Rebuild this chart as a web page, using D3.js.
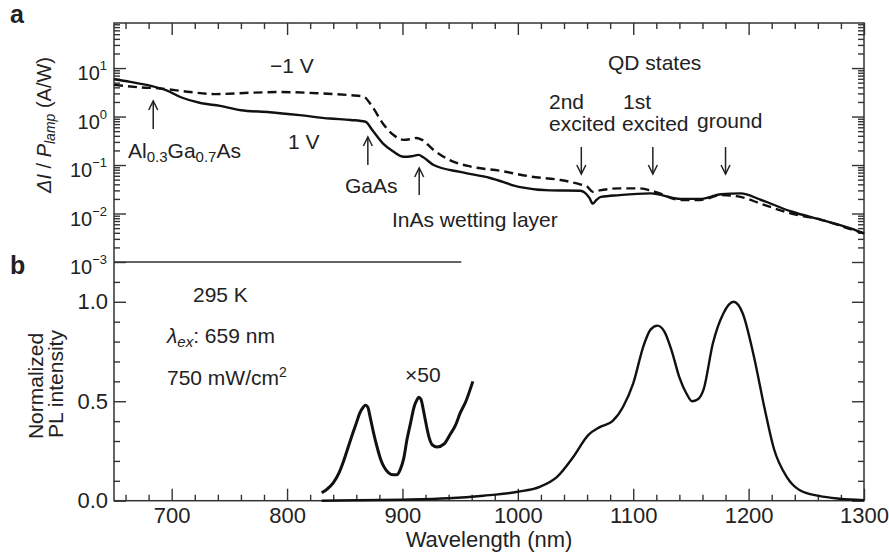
<!DOCTYPE html>
<html>
<head>
<meta charset="utf-8">
<script src="https://cdn.jsdelivr.net/npm/d3@7"></script>
<style>
  body { margin: 0; background: #fff; }
  svg text { font-family: "Liberation Sans", Arial, Helvetica, sans-serif; fill: #222; }
</style>
</head>
<body>
<div id="chart"></div>
<script>
// panel a: photocurrent response (A/W)
var respWl = [650, 664, 682, 695, 708, 725, 742, 760, 785, 811, 837, 855, 868, 874, 883, 892, 901, 908, 914, 918, 927, 950, 976, 1002, 1028, 1054, 1058, 1062, 1065, 1068, 1072, 1088, 1115, 1141, 1158, 1176, 1193, 1211, 1237, 1263, 1289, 1300];
var resp1V = [5.9, 5.2, 4.3, 3.5, 2.5, 1.9, 1.66, 1.35, 1.23, 1.07, 0.91, 0.85, 0.78, 0.52, 0.28, 0.19, 0.148, 0.152, 0.162, 0.145, 0.100, 0.072, 0.054, 0.035, 0.030, 0.0295, 0.027, 0.021, 0.016, 0.019, 0.022, 0.024, 0.026, 0.020, 0.020, 0.025, 0.026, 0.019, 0.011, 0.0074, 0.0049, 0.0039];
var respWlNeg = [650, 673, 690, 716, 738, 768, 794, 829, 855, 866, 874, 883, 892, 901, 906, 912, 917, 927, 941, 959, 985, 1011, 1037, 1054, 1060, 1065, 1071, 1088, 1106, 1119, 1141, 1158, 1176, 1193, 1211, 1237, 1263, 1289, 1300];
var respNeg1V = [4.5, 4.0, 3.8, 3.2, 2.9, 3.1, 3.2, 3.0, 2.75, 2.6, 1.58, 0.72, 0.42, 0.33, 0.34, 0.36, 0.33, 0.204, 0.126, 0.093, 0.076, 0.058, 0.049, 0.040, 0.036, 0.028, 0.030, 0.033, 0.033, 0.028, 0.019, 0.019, 0.024, 0.022, 0.0158, 0.010, 0.0074, 0.0047, 0.0039];

// panel b: normalized PL
var plWl = [830, 860, 900, 940, 970, 1000, 1019, 1034, 1048, 1061, 1071, 1082, 1091, 1100, 1109, 1115, 1121, 1127, 1133, 1140, 1146, 1151, 1156, 1161, 1169, 1178, 1187, 1195, 1204, 1214, 1222, 1233, 1244, 1261, 1279, 1300];
var plValue = [0, 0.002, 0.005, 0.012, 0.025, 0.045, 0.07, 0.12, 0.22, 0.33, 0.37, 0.40, 0.47, 0.59, 0.78, 0.86, 0.88, 0.85, 0.76, 0.62, 0.54, 0.50, 0.51, 0.56, 0.79, 0.94, 1.0, 0.94, 0.74, 0.46, 0.26, 0.12, 0.054, 0.024, 0.01, 0.003];
var pl50Wl = [830, 835, 840, 845, 849, 853, 857, 860, 863, 866, 868, 870, 872, 875, 878, 881, 884, 888, 892, 895, 898, 901, 904, 907, 910, 912, 914, 916, 918, 920, 923, 926, 930, 936, 941, 946, 950, 955, 961];
var pl50Value = [0.04, 0.06, 0.09, 0.14, 0.2, 0.27, 0.34, 0.39, 0.44, 0.47, 0.48, 0.47, 0.42, 0.34, 0.27, 0.21, 0.17, 0.14, 0.13, 0.13, 0.155, 0.21, 0.31, 0.39, 0.47, 0.5, 0.52, 0.51, 0.46, 0.40, 0.32, 0.28, 0.27, 0.285, 0.33, 0.38, 0.44, 0.50, 0.60];

var xMajor = [700, 800, 900, 1000, 1100, 1200, 1300];
var logMajor = [1e-3, 1e-2, 1e-1, 1, 10];
var logLabels = ["\u22123", "\u22122", "\u22121", "0", "1"];
var plMajor = [0, 0.5, 1.0];

// arrows (wavelength of arrow)
var upArrows = [684, 870, 914.5];
var downArrows = [1055, 1117, 1180];

var width = 889, height = 559;
var pLeft = 114, pRight = 864, pTop = 23, pMid = 262, pBottom = 500.7;

var svg = d3.select("#chart").append("svg")
    .attr("width", width)
    .attr("height", height);

var x = d3.scaleLinear().domain([650, 1300]).range([pLeft, pRight]);
var yTop = d3.scaleLog().domain([1e-3, 85]).range([pMid, pTop]);
var yBot = d3.scaleLinear().domain([0, 1.2]).range([pBottom, pMid]);

var xMinor = d3.range(660, 1300, 20).filter(function(d) { return d % 100 != 0; });
var logMinor = yTop.ticks().filter(function(d) { return logMajor.indexOf(d) < 0; });
var plMinor = d3.range(0, 12).map(function(d) { return d / 10; }).filter(function(d) { return plMajor.indexOf(d) < 0; });

function tidy(g) {
    g.select(".domain").remove();
    g.selectAll(".tick line").attr("stroke", "#333").attr("stroke-width", 1.4);
    g.selectAll("text").attr("font-size", 22).attr("fill", "#222");
}

// bottom x axis
svg.append("g").attr("transform", "translate(0," + pBottom + ")")
    .call(d3.axisBottom(x).tickValues(xMinor).tickSize(-6).tickFormat("")).call(tidy);
svg.append("g").attr("transform", "translate(0," + pBottom + ")")
    .call(d3.axisBottom(x).tickValues(xMajor).tickSize(-12).tickPadding(7).tickFormat(d3.format("d"))).call(tidy);
// top x axis
svg.append("g").attr("transform", "translate(0," + pTop + ")")
    .call(d3.axisTop(x).tickValues(xMinor).tickSize(-6).tickFormat("")).call(tidy);
svg.append("g").attr("transform", "translate(0," + pTop + ")")
    .call(d3.axisTop(x).tickValues(xMajor).tickSize(-12).tickFormat("")).call(tidy);

// log axes and PL axes (left + right)
[[pLeft, d3.axisLeft], [pRight, d3.axisRight]].forEach(function(s) {
    svg.append("g").attr("transform", "translate(" + s[0] + ",0)")
        .call(s[1](yTop).tickValues(logMinor).tickSize(-6).tickFormat("")).call(tidy);
    svg.append("g").attr("transform", "translate(" + s[0] + ",0)")
        .call(s[1](yTop).tickValues(logMajor).tickSize(-12).tickFormat("")).call(tidy);
    svg.append("g").attr("transform", "translate(" + s[0] + ",0)")
        .call(s[1](yBot).tickValues(plMinor).tickSize(-6).tickFormat("")).call(tidy);
    svg.append("g").attr("transform", "translate(" + s[0] + ",0)")
        .call(s[1](yBot).tickValues(plMajor).tickSize(-12).tickPadding(6)
            .tickFormat(s[0] == pLeft ? d3.format(".1f") : "")).call(tidy);
});

// log labels 10^n
var logText = svg.append("g").selectAll("text").data(logMajor).enter()
    .append("text")
    .attr("x", pLeft - 7)
    .attr("y", function(d) { return yTop(d) + 12; })
    .attr("text-anchor", "end")
    .attr("font-size", 20);
logText.append("tspan").text("10");
logText.append("tspan").attr("font-size", 13).attr("dy", -10)
    .text(function(d, i) { return logLabels[i]; });

// frame
svg.append("rect").attr("x", pLeft).attr("y", pTop)
    .attr("width", pRight - pLeft).attr("height", pBottom - pTop)
    .attr("fill", "none").attr("stroke", "#333").attr("stroke-width", 1.5);
svg.append("line").attr("x1", x(650)).attr("x2", x(951))
    .attr("y1", pMid).attr("y2", pMid)
    .attr("stroke", "#333").attr("stroke-width", 1.5);

// curves
var line = d3.line().curve(d3.curveMonotoneX);
svg.append("path")
    .attr("d", line(respWl.map(function(d, i) { return [x(d), yTop(resp1V[i])]; })))
    .attr("fill", "none").attr("stroke", "#111").attr("stroke-width", 2.4);
svg.append("path")
    .attr("d", line(respWlNeg.map(function(d, i) { return [x(d), yTop(respNeg1V[i])]; })))
    .attr("fill", "none").attr("stroke", "#111").attr("stroke-width", 2.4)
    .attr("stroke-dasharray", "9,5");
svg.append("path")
    .attr("d", line(plWl.map(function(d, i) { return [x(d), yBot(plValue[i])]; })))
    .attr("fill", "none").attr("stroke", "#111").attr("stroke-width", 2.4);
svg.append("path")
    .attr("d", line(pl50Wl.map(function(d, i) { return [x(d), yBot(pl50Value[i])]; })))
    .attr("fill", "none").attr("stroke", "#111").attr("stroke-width", 3);

// arrows
function arrow(xp, y1, y2) {
    var dir = y2 < y1 ? 1 : -1;
    var g = svg.append("g").attr("stroke", "#222").attr("stroke-width", 1.5).attr("fill", "none");
    g.append("line").attr("x1", xp).attr("x2", xp).attr("y1", y1).attr("y2", y2);
    g.append("path").attr("d", "M" + (xp - 4.5) + "," + (y2 + dir * 9) + "L" + xp + "," + y2 + "L" + (xp + 4.5) + "," + (y2 + dir * 9));
}
arrow(x(upArrows[0]), 129, 101);
arrow(x(upArrows[1]), 165, 137);
arrow(x(upArrows[2]), 195, 168);
downArrows.forEach(function(d) { arrow(x(d), 147, 174); });

// annotations
function label(t, xp, yp, size) {
    return svg.append("text").attr("x", xp).attr("y", yp).attr("font-size", size || 21).text(t);
}
label("\u22121 V", 270, 73);
label("1 V", 288, 149);
var al = svg.append("text").attr("x", 128).attr("y", 158).attr("font-size", 21);
al.append("tspan").text("Al");
al.append("tspan").attr("font-size", 15).attr("dy", 4).text("0.3");
al.append("tspan").attr("dy", -4).text("Ga");
al.append("tspan").attr("font-size", 15).attr("dy", 4).text("0.7");
al.append("tspan").attr("dy", -4).text("As");
label("GaAs", 345, 193);
label("InAs wetting layer", 392, 227);
label("QD states", 608, 70);
label("2nd", 549, 109);
label("excited", 549, 131);
label("1st", 623, 109);
label("excited", 622, 131);
label("ground", 697, 128);

label("295 K", 193, 302);
var lam = svg.append("text").attr("x", 167).attr("y", 343).attr("font-size", 21);
lam.append("tspan").attr("font-style", "italic").text("\u03bb");
lam.append("tspan").attr("font-style", "italic").attr("font-size", 15).attr("dy", 4).text("ex");
lam.append("tspan").attr("dy", -4).text(": 659 nm");
var pw = svg.append("text").attr("x", 167).attr("y", 385).attr("font-size", 21);
pw.append("tspan").text("750 mW/cm");
pw.append("tspan").attr("font-size", 14).attr("dy", -8).text("2");
label("\u00d750", 405, 382);

// panel letters
label("a", 10, 23, 25).attr("font-weight", "bold");
label("b", 10, 274, 25).attr("font-weight", "bold");

// axis titles
svg.append("text").attr("x", (pLeft + pRight) / 2).attr("y", 547)
    .attr("text-anchor", "middle").attr("font-size", 22).text("Wavelength (nm)");

var yl = svg.append("text").attr("transform", "translate(51,125) rotate(-90)")
    .attr("text-anchor", "middle").attr("font-size", 20);
yl.append("tspan").attr("font-style", "italic").text("\u0394I");
yl.append("tspan").text(" / ");
yl.append("tspan").attr("font-style", "italic").text("P");
yl.append("tspan").attr("font-style", "italic").attr("font-size", 14).attr("dy", 4).text("lamp");
yl.append("tspan").attr("dy", -4).text(" (A/W)");

svg.append("text").attr("transform", "translate(43,386) rotate(-90)")
    .attr("text-anchor", "middle").attr("font-size", 21).text("Normalized");
svg.append("text").attr("transform", "translate(63,384) rotate(-90)")
    .attr("text-anchor", "middle").attr("font-size", 21).text("PL intensity");
</script>
</body>
</html>
